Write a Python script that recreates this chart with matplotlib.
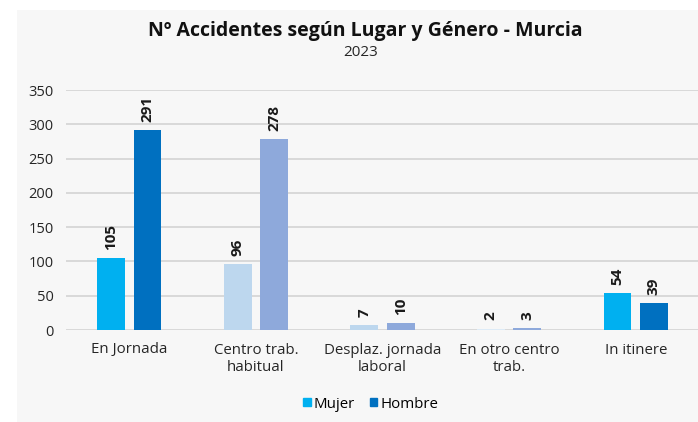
import numpy as np
import matplotlib
matplotlib.use("Agg")
import matplotlib.pyplot as plt
from matplotlib.patches import Rectangle

categories = ["En Jornada", "Centro trab.\nhabitual", "Desplaz. jornada\nlaboral", "En otro centro\ntrab.", "In itinere"]
mujer = [105, 96, 7, 2, 54]
hombre = [291, 278, 10, 3, 39]
mujer_colors = ["#00B0F0", "#BDD7EE", "#BDD7EE", "#DDEBF7", "#00B0F0"]
hombre_colors = ["#0070C0", "#8EA9DB", "#8EA9DB", "#8EA9DB", "#0070C0"]
yticks = [0, 50, 100, 150, 200, 250, 300, 350]

plt.rcParams["font.family"] = ["Open Sans", "DejaVu Sans"]

fig = plt.figure(figsize=(6.98, 4.22), dpi=100)
fig.patches.append(Rectangle((17 / 698, 0), 1, 1 - 10 / 422, transform=fig.transFigure,
                             facecolor="#F7F7F7", edgecolor="none", zorder=-10))

ax = fig.add_axes([66 / 698, 1 - 330 / 422, 633 / 698, 240 / 422])
ax.set_facecolor("none")

x = np.arange(len(categories))
w = 0.22
off = 0.144
b1 = ax.bar(x - off, mujer, w, color=mujer_colors, label="Mujer", zorder=3)
b2 = ax.bar(x + off, hombre, w, color=hombre_colors, label="Hombre", zorder=3)

for bars, vals in ((b1, mujer), (b2, hombre)):
    for rect, v in zip(bars, vals):
        ax.annotate(str(v), (rect.get_x() + rect.get_width() / 2, v),
                    xytext=(0, 6), textcoords="offset points",
                    rotation=90, ha="center", va="bottom",
                    fontsize=11, fontweight="bold", color="#1a1a1a")

ax.set_xlim(-0.5, len(categories) - 0.5)
ax.set_ylim(0, 350)
ax.set_yticks(yticks)
ax.set_xticks(x)
ax.set_xticklabels(categories, fontsize=10.8, color="#262626", linespacing=1.2)
ax.tick_params(axis="y", labelsize=10.5, labelcolor="#262626", length=0, pad=9)
ax.tick_params(axis="x", length=0, pad=9)
ax.grid(axis="y", color="#D4D4D4", linewidth=1.2, zorder=0)
for s in ax.spines.values():
    s.set_visible(False)

fig.text(0.524, 1 - 31 / 422, "Nº Accidentes según Lugar y Género - Murcia",
         ha="center", va="center", fontsize=14, fontweight="bold", color="#111111")
fig.text(0.516, 1 - 52 / 422, "2023", ha="center", va="center", fontsize=11, color="#262626")

handles = [Rectangle((0, 0), 1, 1, color="#00B0F0"), Rectangle((0, 0), 1, 1, color="#0070C0")]
fig.legend(handles, ["Mujer", "Hombre"], loc="center", bbox_to_anchor=(0.531, 1 - 404 / 422),
           ncol=2, frameon=False, fontsize=10.8, handlelength=0.5, handleheight=0.5,
           handletextpad=0.2, columnspacing=1.0)

fig.savefig("out.png", dpi=100, facecolor="white")
